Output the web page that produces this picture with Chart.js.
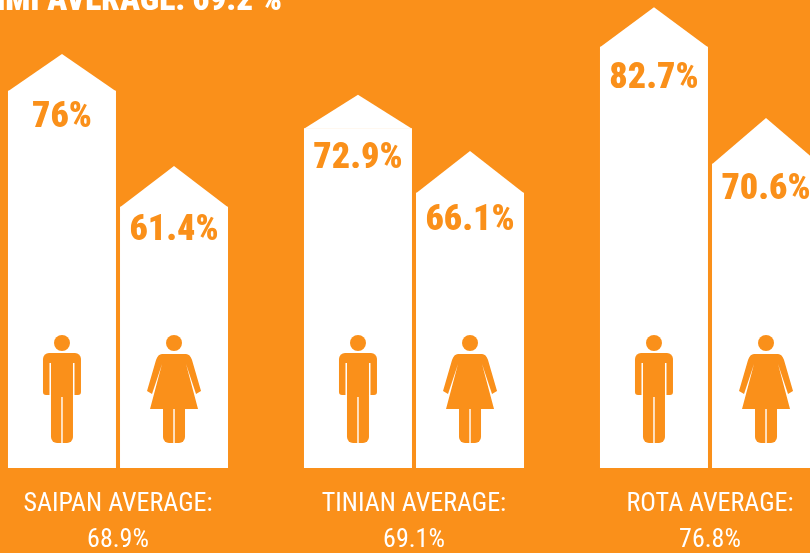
<!DOCTYPE html>
<html>
<head>
<meta charset="utf-8">
<title>Average by island</title>
<script src="https://cdn.jsdelivr.net/npm/chart.js@4"></script>
<style>
  html, body { margin:0; padding:0; width:810px; height:553px; overflow:hidden; background:#fa901a; }
  #houses { position:absolute; left:-30px; top:0; }
</style>
</head>
<body>
<canvas id="houses" width="888" height="553"></canvas>
<script>
const titleText = "CNMI AVERAGE: 69.2 %";
const islands = ["SAIPAN AVERAGE:", "TINIAN AVERAGE:", "ROTA AVERAGE:"];
const islandAverages = ["68.9%", "69.1%", "76.8%"];

// printed percentages
const maleValues = [76, 72.9, 82.7];
const femaleValues = [61.4, 66.1, 70.6];

// drawn heights, the artwork is not to scale with the printed numbers
const maleWall = [67.7, 61.0, 75.6];
const femaleWall = [46.9, 49.4, 54.6];
const maleRoof = [74.3, 67.0, 82.7];
const femaleRoof = [54.2, 56.9, 62.8];

// how far under the wall top each number sits
const maleDrop = [27, 31, 32];
const femaleDrop = [24, 28, 26];

const orange = "#fa901a";
const numberFont = "900 36px 'Roboto Condensed'";
const titleFont = "900 33px 'Roboto Condensed'";

function drawMan(c, x, b) {
  c.beginPath();
  c.arc(x, b - 125, 8, 0, Math.PI * 2);
  c.fill();
  // body with arms
  c.beginPath();
  c.roundRect(x - 19, b - 115, 38, 42, [6, 6, 3, 3]);
  c.fill();
  c.beginPath();
  c.roundRect(x - 11, b - 100, 22, 75, [0, 0, 6, 6]);
  c.fill();
  c.fillStyle = "#fff";
  c.fillRect(x - 12.5, b - 105, 1.5, 33);
  c.fillRect(x + 11, b - 105, 1.5, 33);
  c.fillRect(x - 0.7, b - 71, 1.4, 46);
  c.fillStyle = orange;
}

function drawWoman(c, x, b) {
  c.beginPath();
  c.arc(x, b - 125, 8, 0, Math.PI * 2);
  c.fill();
  // dress and arms
  c.beginPath();
  c.moveTo(x - 12, b - 114);
  c.lineTo(x + 12, b - 114);
  c.quadraticCurveTo(x + 16, b - 114, x + 18, b - 108);
  c.lineTo(x + 27, b - 77);
  c.lineTo(x + 22, b - 74);
  c.lineTo(x + 12, b - 104);
  c.lineTo(x + 24, b - 59);
  c.lineTo(x - 24, b - 59);
  c.lineTo(x - 12, b - 104);
  c.lineTo(x - 22, b - 74);
  c.lineTo(x - 27, b - 77);
  c.lineTo(x - 18, b - 108);
  c.quadraticCurveTo(x - 16, b - 114, x - 12, b - 114);
  c.closePath();
  c.fill();
  c.beginPath();
  c.roundRect(x - 11, b - 60, 22, 35, [0, 0, 6, 6]);
  c.fill();
  c.fillStyle = "#fff";
  c.fillRect(x - 0.7, b - 59, 1.4, 34);
  c.fillStyle = orange;
}

const housePlugin = {
  id: "house",
  afterDatasetsDraw(chart) {
    const c = chart.ctx;
    const y = chart.scales.y;
    const bottom = chart.chartArea.bottom;
    c.save();
    chart.data.datasets.forEach((ds, i) => {
      chart.getDatasetMeta(i).data.forEach((bar, j) => {
        const half = bar.width / 2;
        // roof
        c.fillStyle = "#fff";
        c.beginPath();
        c.moveTo(bar.x - half, bar.y + 0.5);
        c.lineTo(bar.x, y.getPixelForValue(ds.roof[j]));
        c.lineTo(bar.x + half, bar.y + 0.5);
        c.closePath();
        c.fill();
        // number
        c.fillStyle = orange;
        c.font = numberFont;
        c.textAlign = "center";
        c.textBaseline = "middle";
        c.fillText(ds.values[j] + "%", bar.x, bar.y + ds.drop[j]);
        // person
        if (i == 0) drawMan(c, bar.x, bottom);
        else drawWoman(c, bar.x, bottom);
      });
    });
    // title runs off the top left corner
    c.fillStyle = "#fff";
    c.font = titleFont;
    c.textAlign = "right";
    c.textBaseline = "alphabetic";
    c.fillText(titleText, 312, 10);
    c.restore();
  }
};

new Chart(document.getElementById("houses"), {
  type: "bar",
  plugins: [housePlugin],
  data: {
    labels: islands.map((name, i) => [name, islandAverages[i]]),
    datasets: [
      { label: "Male", data: maleWall, values: maleValues, roof: maleRoof, drop: maleDrop, backgroundColor: "#fff" },
      { label: "Female", data: femaleWall, values: femaleValues, roof: femaleRoof, drop: femaleDrop, backgroundColor: "#fff" }
    ]
  },
  options: {
    responsive: false,
    animation: false,
    categoryPercentage: 0.757,
    barPercentage: 0.964,
    layout: { padding: 0 },
    plugins: {
      legend: { display: false },
      title: { display: false },
      tooltip: { enabled: false }
    },
    scales: {
      x: {
        grid: { display: false },
        border: { display: false },
        afterFit(scale) { scale.height = 85; },
        ticks: {
          color: "#fff",
          padding: 11,
          maxRotation: 0,
          autoSkip: false,
          font: { family: "'Roboto Condensed'", weight: "400", size: 26, lineHeight: 1.38 }
        }
      },
      y: { display: false, min: 0, max: 84 }
    }
  }
});
</script>
</body>
</html>
